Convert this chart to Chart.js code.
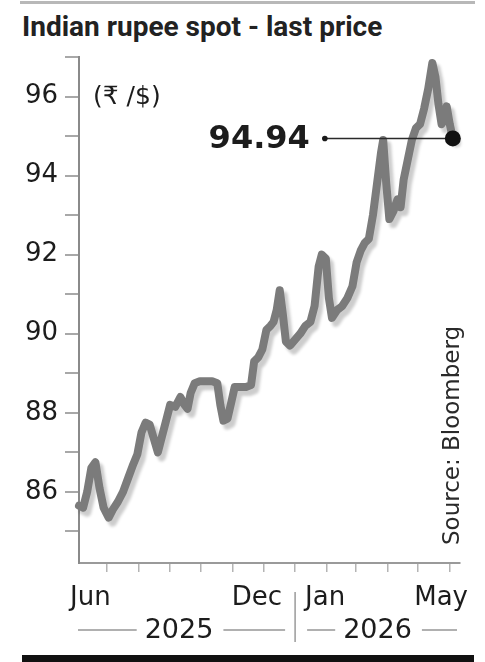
<!DOCTYPE html>
<html>
<head>
<meta charset="utf-8">
<script src="https://cdn.jsdelivr.net/npm/chart.js@4.4.1/dist/chart.umd.min.js"></script>
<style>
  html, body { margin: 0; padding: 0; background: #fff; }
  body { width: 485px; height: 662px; position: relative; overflow: hidden; }
  #topRule { position: absolute; left: 20px; top: 1px; width: 455px; height: 3px; background: #b8b8b8; }
  #title { position: absolute; left: 22px; top: 13px; margin: 0; font: 700 28px/27px Roboto, sans-serif;
           color: #222; white-space: nowrap; letter-spacing: 0px; }
  #bottomBar { position: absolute; left: 22px; top: 655px; width: 452px; height: 7px; background: #111; }
  canvas { position: absolute; left: 0; top: 0; }
</style>
</head>
<body>
<div id="topRule"></div>
<div id="title">Indian rupee spot - last price</div>
<canvas id="chart" width="485" height="662"></canvas>
<div id="bottomBar"></div>
<script>
// Days counted from 1 June 2025
const dayOffsets = [
  3, 7, 11, 15, 19, 23, 27, 32, 36, 41, 46, 51, 56, 60, 64, 68, 72, 76, 80, 84,
  88, 92, 97, 102, 106, 109, 112, 116, 121, 127, 133, 138, 141, 144, 148, 152, 155, 160, 166, 171,
  174, 178, 182, 186, 190, 193, 196, 199, 202, 205, 209, 214, 219, 224, 229, 233, 237, 240, 244, 247,
  250, 255, 260, 265, 270, 274, 278, 282, 286, 290, 294, 298, 300, 303, 306, 310, 314, 317, 320, 324,
  328, 332, 336, 340, 344, 348, 351, 354, 357, 359, 362, 365, 368
];
// Rupees per US dollar
const rupeePerDollar = [
  85.65, 85.60, 86.00, 86.60, 86.75, 86.10, 85.60, 85.35, 85.55, 85.75, 86.00, 86.35, 86.70, 86.95, 87.50, 87.75, 87.70, 87.35, 87.00, 87.40,
  87.80, 88.20, 88.15, 88.40, 88.20, 88.10, 88.50, 88.75, 88.80, 88.80, 88.80, 88.75, 88.20, 87.80, 87.85, 88.30, 88.65, 88.65, 88.65, 88.70,
  89.30, 89.40, 89.60, 90.10, 90.20, 90.30, 90.60, 91.10, 90.50, 89.80, 89.70, 89.85, 90.00, 90.20, 90.30, 90.70, 91.70, 92.00, 91.90, 90.90,
  90.40, 90.60, 90.70, 90.90, 91.20, 91.80, 92.10, 92.30, 92.40, 93.00, 93.80, 94.60, 94.90, 93.80, 92.90, 93.10, 93.40, 93.20, 93.90, 94.40,
  94.90, 95.20, 95.30, 95.70, 96.20, 96.85, 96.50, 95.80, 95.30, 95.40, 95.75, 95.30, 94.94
];
// First day of each month, Jul 2025 - Jun 2026
const monthStartDays = [30, 61, 92, 122, 153, 183, 214, 245, 273, 304, 334, 365];
const yearStartDay = 214;          // 1 January 2026
const rateTickLabels = [86, 88, 90, 92, 94, 96];
const monthLabels = ['Jun', 'Dec', 'Jan', 'May'];
const yearLabels = ['2025', '2026'];
const unitLabel = '(\u20B9 /$)';
const sourceLabel = 'Source: Bloomberg';

const points = dayOffsets.map((d, i) => ({ x: d, y: rupeePerDollar[i] }));
const lastPoint = points[points.length - 1];

const INK = '#1c1c1c';
const FONT = '"DejaVu Sans", "Noto Sans", sans-serif';

// soft drop shadow under the price line
const lineShadow = {
  id: 'lineShadow',
  beforeDatasetDraw(chart, args) {
    if (args.index !== 0) return;
    const c = chart.ctx;
    c.save();
    c.shadowColor = 'rgba(0,0,0,0.2)';
    c.shadowOffsetX = 4;
    c.shadowOffsetY = 5;
    c.shadowBlur = 3;
  },
  afterDatasetDraw(chart, args) {
    if (args.index !== 0) return;
    chart.ctx.restore();
  }
};

// leader line and value label for the latest price
const lastPriceCallout = {
  id: 'lastPriceCallout',
  beforeDatasetDraw(chart, args) {
    if (args.index !== 1) return;
    const c = chart.ctx;
    const px = chart.scales.x.getPixelForValue(lastPoint.x);
    const py = chart.scales.y.getPixelForValue(lastPoint.y);
    const startX = px - 128;
    c.save();
    c.strokeStyle = '#2a2a2a';
    c.lineWidth = 1.5;
    c.beginPath();
    c.moveTo(startX, py);
    c.lineTo(px, py);
    c.stroke();
    c.fillStyle = '#1a1a1a';
    c.beginPath();
    c.arc(startX, py, 2.8, 0, Math.PI * 2);
    c.fill();
    c.font = 'bold 32px ' + FONT;
    c.textAlign = 'right';
    c.textBaseline = 'middle';
    c.fillStyle = INK;
    c.fillText(lastPoint.y.toFixed(2), startX - 15, py + 1);
    c.restore();
  }
};

// month, year, unit and source captions
const captions = {
  id: 'captions',
  afterDraw(chart) {
    const c = chart.ctx;
    const xs = chart.scales.x, ys = chart.scales.y;
    const left = xs.left, right = xs.right;
    const sep = xs.getPixelForValue(yearStartDay);
    c.save();
    c.fillStyle = INK;
    c.textBaseline = 'alphabetic';

    // month names
    c.font = '26px ' + FONT;
    const monthY = 605;
    c.textAlign = 'left';  c.fillText(monthLabels[0], left - 9, monthY);
    c.textAlign = 'right'; c.fillText(monthLabels[1], sep - 13, monthY);
    c.textAlign = 'left';  c.fillText(monthLabels[2], sep + 10, monthY);
    c.textAlign = 'right'; c.fillText(monthLabels[3], right + 8, monthY);

    // year separator
    c.strokeStyle = '#9a9a9a';
    c.lineWidth = 1.5;
    c.beginPath();
    c.moveTo(sep, 592);
    c.lineTo(sep, 642);
    c.stroke();

    // years with rules either side
    c.font = '27px ' + FONT;
    c.textAlign = 'center';
    const yearY = 638, ruleY = 630;
    const spans = [
      { label: yearLabels[0], cx: (left + sep) / 2 - 8, from: left - 1, to: sep - 10 },
      { label: yearLabels[1], cx: (sep + right) / 2, from: sep + 12, to: right - 3 }
    ];
    c.strokeStyle = '#b0b0b0';
    c.lineWidth = 2;
    spans.forEach(s => {
      const w = c.measureText(s.label).width;
      c.fillText(s.label, s.cx, yearY);
      c.beginPath();
      c.moveTo(s.from, ruleY);
      c.lineTo(s.cx - w / 2 - 8, ruleY);
      c.moveTo(s.cx + w / 2 + 10, ruleY);
      c.lineTo(s.to, ruleY);
      c.stroke();
    });

    // unit
    c.font = '25px ' + FONT;
    c.textAlign = 'left';
    c.textBaseline = 'middle';
    c.fillText(unitLabel, left + 14, ys.getPixelForValue(96) + 1);

    // source, set vertically
    c.font = '23px ' + FONT;
    c.fillStyle = '#2a2a2a';
    c.textBaseline = 'alphabetic';
    c.translate(right - 1, 545);
    c.rotate(-Math.PI / 2);
    c.textAlign = 'left';
    c.fillText(sourceLabel, 0, 0);
    c.restore();
  }
};

new Chart(document.getElementById('chart'), {
  type: 'line',
  data: {
    datasets: [
      {
        data: points,
        borderColor: '#7b7b7b',
        borderWidth: 8,
        pointRadius: 0,
        tension: 0,
        borderJoinStyle: 'round',
        borderCapStyle: 'round',
        clip: false,
        order: 1
      },
      {
        data: [lastPoint],
        showLine: false,
        pointRadius: 8,
        pointBackgroundColor: '#111',
        pointBorderColor: '#111',
        pointBorderWidth: 0,
        clip: false,
        order: 0
      }
    ]
  },
  options: {
    responsive: false,
    animation: false,
    devicePixelRatio: 1,
    layout: { padding: { top: 57, right: 25, bottom: 0, left: 0 }, autoPadding: false },
    plugins: { legend: { display: false }, tooltip: { enabled: false }, title: { display: false } },
    scales: {
      x: {
        type: 'linear',
        min: 3,
        max: 375,
        afterBuildTicks: s => { s.ticks = monthStartDays.map(v => ({ value: v })); },
        afterFit: s => { s.height = 99; },
        ticks: { display: false },
        grid: { display: true, drawOnChartArea: false, drawTicks: true, tickLength: 9, color: '#b4b4b4', lineWidth: 1.5 },
        border: { display: true, color: '#9a9a9a', width: 2 }
      },
      y: {
        type: 'linear',
        min: 84.2,
        max: 97,
        afterBuildTicks: s => {
          const t = [];
          for (let v = 85; v <= 97; v++) t.push({ value: v });
          s.ticks = t;
        },
        afterFit: s => { s.width = 79; },
        ticks: {
          autoSkip: false,
          padding: 7,
          color: INK,
          font: { family: FONT, size: 26 },
          callback: v => (rateTickLabels.includes(v) ? String(v) : '')
        },
        grid: { display: true, drawOnChartArea: false, drawTicks: true, tickLength: 14, color: '#a8a8a8', lineWidth: 2 },
        border: { display: true, color: '#8a8a8a', width: 2 }
      }
    }
  },
  plugins: [lineShadow, lastPriceCallout, captions]
});
</script>
</body>
</html>
